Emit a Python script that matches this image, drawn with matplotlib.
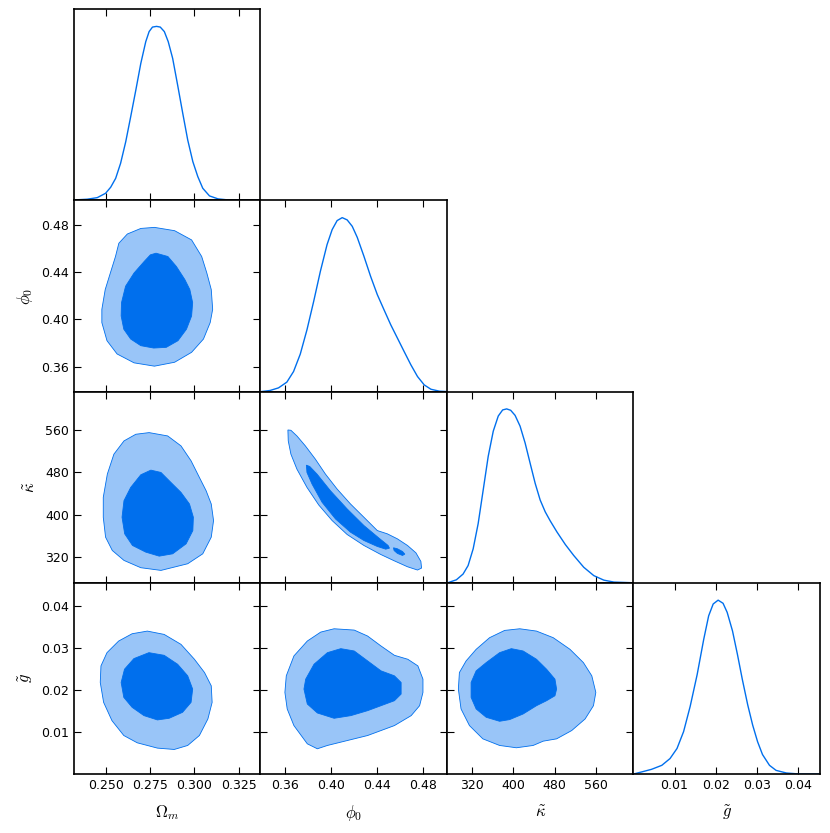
import numpy as np
import matplotlib
matplotlib.use("Agg")
import matplotlib.pyplot as plt

plt.rcParams['mathtext.fontset'] = 'cm'
plt.rcParams['font.family'] = 'DejaVu Sans'

DARK = '#006FED'
LIGHT = '#99C5F8'

# parameter names, ticks and ranges
names = [r'$\Omega_m$', r'$\phi_0$', r'$\tilde{\kappa}$', r'$\tilde{g}$']
ticks = [[0.250, 0.275, 0.300, 0.325],
         [0.36, 0.40, 0.44, 0.48],
         [320, 400, 480, 560],
         [0.01, 0.02, 0.03, 0.04]]
tick_labels = [['0.250', '0.275', '0.300', '0.325'],
               ['0.36', '0.40', '0.44', '0.48'],
               ['320', '400', '480', '560'],
               ['0.01', '0.02', '0.03', '0.04']]
lims = [(0.2318, 0.3372), (0.339, 0.5005), (271, 633), (0.0, 0.0454)]

# 1D marginals (normalised to peak 1)
om_x = [0.2322, 0.2394, 0.2451, 0.2498, 0.2527, 0.2555, 0.2583, 0.2612, 0.2640, 0.2669, 0.2697,
        0.2725, 0.2744, 0.2763, 0.2786, 0.2807, 0.2830, 0.2852, 0.2877, 0.2905, 0.2934, 0.2962,
        0.2991, 0.3019, 0.3047, 0.3085, 0.3133, 0.3189, 0.3373]
om_p = [0.002, 0.006, 0.015, 0.040, 0.075, 0.126, 0.213, 0.337, 0.481, 0.634, 0.787,
        0.912, 0.970, 0.996, 1.0, 0.996, 0.970, 0.912, 0.816, 0.663, 0.500, 0.347,
        0.222, 0.136, 0.069, 0.025, 0.008, 0.002, 0.0]
phi_x = [0.3403, 0.3475, 0.3548, 0.3620, 0.3678, 0.3736, 0.3794, 0.3852, 0.3910, 0.3968, 0.4012,
         0.4055, 0.4099, 0.4142, 0.4186, 0.4229, 0.4287, 0.4345, 0.4403, 0.4461, 0.4519, 0.4577,
         0.4635, 0.4693, 0.4751, 0.4809, 0.4867, 0.4940, 0.4998]
phi_p = [0.0, 0.006, 0.021, 0.054, 0.115, 0.215, 0.355, 0.518, 0.691, 0.845, 0.931,
         0.983, 1.0, 0.987, 0.950, 0.887, 0.778, 0.662, 0.557, 0.470, 0.384, 0.307,
         0.230, 0.154, 0.086, 0.038, 0.013, 0.002, 0.0]
kap_x = [274.5, 289.4, 302.4, 312.2, 322.0, 331.7, 341.5, 351.2, 361.0, 370.7, 379.2, 387.0,
         394.8, 403.3, 413.0, 422.8, 432.5, 442.3, 452.0, 461.8, 471.5, 484.6, 500.8, 517.1,
         536.6, 556.1, 575.6, 595.1, 632.8]
kap_p = [0.002, 0.017, 0.050, 0.099, 0.195, 0.340, 0.534, 0.727, 0.872, 0.959, 0.994, 1.0,
         0.992, 0.963, 0.901, 0.804, 0.688, 0.572, 0.476, 0.408, 0.356, 0.292, 0.220, 0.157,
         0.089, 0.041, 0.015, 0.004, 0.0]
g_x = [0.0000, 0.0020, 0.0044, 0.0069, 0.0089, 0.0106, 0.0122, 0.0138, 0.0155, 0.0171, 0.0183,
       0.0194, 0.0206, 0.0218, 0.0228, 0.0241, 0.0253, 0.0265, 0.0278, 0.0290, 0.0302, 0.0314,
       0.0331, 0.0347, 0.0372, 0.0404, 0.0453]
g_p = [0.0, 0.012, 0.027, 0.050, 0.089, 0.147, 0.244, 0.389, 0.572, 0.775, 0.910,
       0.978, 1.0, 0.982, 0.930, 0.823, 0.688, 0.543, 0.398, 0.282, 0.186, 0.112,
       0.050, 0.021, 0.006, 0.0, 0.0]

# 2D contours: (outer 95%, inner 68%)
om_phi_outer = ([0.2774, 0.2888, 0.2984, 0.3041, 0.3070, 0.3095, 0.3103, 0.3089, 0.3051, 0.2984, 0.2888,
                 0.2774, 0.2659, 0.2563, 0.2506, 0.2477, 0.2477, 0.2496, 0.2525, 0.2554, 0.2573, 0.2621, 0.2697],
                [0.4776, 0.4748, 0.4670, 0.4530, 0.4391, 0.4251, 0.4084, 0.3972, 0.3833, 0.3721, 0.3637,
                 0.3604, 0.3632, 0.3707, 0.3819, 0.3972, 0.4084, 0.4251, 0.4391, 0.4530, 0.4642, 0.4720, 0.4767])
om_phi_inner = ([0.2783, 0.2850, 0.2898, 0.2946, 0.2974, 0.2990, 0.2984, 0.2955, 0.2907, 0.2841,
                 0.2770, 0.2697, 0.2640, 0.2601, 0.2586, 0.2588, 0.2611, 0.2659, 0.2716, 0.2751],
                [0.4558, 0.4530, 0.4446, 0.4335, 0.4251, 0.4140, 0.4028, 0.3916, 0.3819, 0.3763,
                 0.3757, 0.3777, 0.3833, 0.3916, 0.4028, 0.4140, 0.4279, 0.4391, 0.4488, 0.4544])

om_kap_outer = ([0.2744, 0.2849, 0.2924, 0.2981, 0.3028, 0.3066, 0.3095, 0.3108, 0.3095, 0.3047, 0.2962,
                 0.2811, 0.2697, 0.2602, 0.2536, 0.2498, 0.2485, 0.2485, 0.2508, 0.2545, 0.2602, 0.2669],
                [555.2, 548.9, 530.1, 501.8, 470.4, 445.2, 420.1, 388.7, 357.3, 325.8, 307.0,
                 294.4, 299.5, 313.3, 332.1, 357.3, 395.0, 432.7, 476.7, 514.4, 539.5, 552.1])
om_kap_inner = ([0.2754, 0.2811, 0.2867, 0.2924, 0.2972, 0.2994, 0.2991, 0.2953, 0.2877, 0.2801,
                 0.2725, 0.2650, 0.2606, 0.2591, 0.2602, 0.2640, 0.2697],
                [484.2, 479.8, 461.0, 442.1, 420.1, 395.0, 369.8, 344.7, 325.8, 321.4,
                 329.0, 341.6, 363.6, 395.0, 426.4, 451.5, 475.4])

om_g_outer = ([0.2734, 0.2829, 0.2924, 0.3000, 0.3057, 0.3095, 0.3100, 0.3076, 0.3028, 0.2962, 0.2886,
               0.2791, 0.2677, 0.2601, 0.2534, 0.2487, 0.2468, 0.2472, 0.2506, 0.2572, 0.2648],
              [0.03393, 0.03314, 0.03078, 0.02724, 0.02409, 0.02094, 0.01701, 0.01307, 0.00914, 0.00678, 0.00583,
               0.00615, 0.00741, 0.00914, 0.01268, 0.01701, 0.02173, 0.02567, 0.02881, 0.03157, 0.03330])
om_g_inner = ([0.2743, 0.2829, 0.2905, 0.2962, 0.2990, 0.2981, 0.2933, 0.2857, 0.2791, 0.2715,
               0.2648, 0.2601, 0.2586, 0.2605, 0.2658],
              [0.02881, 0.02818, 0.02606, 0.02331, 0.02016, 0.01701, 0.01465, 0.01323, 0.01284, 0.01386,
               0.01583, 0.01819, 0.02173, 0.02488, 0.02740])

phi_kap_outer = ([0.3629, 0.3655, 0.3707, 0.3780, 0.3867, 0.3954, 0.4055, 0.4171, 0.4287, 0.4403, 0.4490,
                  0.4577, 0.4664, 0.4737, 0.4780, 0.4786, 0.4751, 0.4664, 0.4548, 0.4432, 0.4287, 0.4142,
                  0.4012, 0.3896, 0.3794, 0.3707, 0.3655, 0.3632],
                 [560.2, 559.6, 548.9, 530.1, 504.9, 476.7, 448.4, 420.1, 395.0, 369.8, 363.6,
                  354.1, 341.6, 327.7, 311.4, 298.8, 295.1, 301.3, 312.7, 324.6, 341.6, 362.3,
                  388.7, 418.2, 451.5, 486.1, 514.4, 539.5])
phi_kap_inner = ([0.3789, 0.3818, 0.3881, 0.3997, 0.4142, 0.4287, 0.4418, 0.4496, 0.4508, 0.4476,
                  0.4403, 0.4287, 0.4171, 0.4041, 0.3925, 0.3838, 0.3794],
                 [493.6, 491.1, 476.7, 445.2, 410.7, 379.3, 355.4, 341.6, 336.5, 334.6,
                  339.7, 351.0, 366.7, 391.8, 423.3, 457.8, 479.8])
phi_kap_island = ([0.4543, 0.4577, 0.4621, 0.4641, 0.4621, 0.4577, 0.4548],
                  [337.2, 335.3, 330.2, 325.2, 322.7, 326.5, 332.1])

phi_g_outer = ([0.4029, 0.4203, 0.4319, 0.4435, 0.4551, 0.4667, 0.4754, 0.4798, 0.4798, 0.4769, 0.4696,
                0.4551, 0.4319, 0.4145, 0.3971, 0.3884, 0.3797, 0.3681, 0.3623, 0.3603, 0.3615, 0.3681,
                0.3797, 0.3913],
               [0.03448, 0.03417, 0.03275, 0.03039, 0.02818, 0.02724, 0.02567, 0.02252, 0.01937, 0.01622, 0.01386,
                0.01150, 0.00914, 0.00796, 0.00678, 0.00599, 0.00717, 0.01150, 0.01544, 0.01937, 0.02331, 0.02803,
                0.03157, 0.03369])
phi_g_inner = ([0.4087, 0.4203, 0.4319, 0.4435, 0.4551, 0.4609, 0.4609, 0.4551, 0.4435, 0.4319,
                0.4174, 0.4029, 0.3884, 0.3797, 0.3768, 0.3783, 0.3855, 0.3971],
               [0.02976, 0.02921, 0.02685, 0.02449, 0.02331, 0.02173, 0.01898, 0.01740, 0.01622, 0.01504,
                0.01386, 0.01323, 0.01449, 0.01662, 0.02016, 0.02252, 0.02606, 0.02881])

kap_g_outer = ([412.4, 444.9, 477.4, 509.9, 535.9, 552.2, 560.0, 555.4, 539.2, 513.2, 483.9, 457.9,
                438.4, 405.9, 373.3, 340.8, 314.8, 298.5, 293.3, 295.3, 308.3, 327.8, 353.8, 383.1],
               [0.03448, 0.03393, 0.03236, 0.02960, 0.02645, 0.02331, 0.01937, 0.01622, 0.01307, 0.01032, 0.00835, 0.00780,
                0.00678, 0.00623, 0.00678, 0.00835, 0.01150, 0.01544, 0.02016, 0.02409, 0.02685, 0.02960, 0.03236, 0.03409])
kap_g_inner = ([396.1, 418.9, 444.9, 464.4, 480.7, 483.9, 480.7, 464.4, 444.9, 418.9,
                392.8, 373.3, 347.3, 327.8, 318.0, 318.0, 327.8, 347.3, 373.3],
               [0.02976, 0.02921, 0.02724, 0.02488, 0.02252, 0.02016, 0.01858, 0.01740, 0.01622, 0.01425,
                0.01292, 0.01252, 0.01347, 0.01544, 0.01819, 0.02173, 0.02449, 0.02645, 0.02881])

marginals = [(om_x, om_p), (phi_x, phi_p), (kap_x, kap_p), (g_x, g_p)]
contours = {
    (1, 0): [om_phi_outer, om_phi_inner],
    (2, 0): [om_kap_outer, om_kap_inner],
    (2, 1): [phi_kap_outer, phi_kap_inner, phi_kap_island],
    (3, 0): [om_g_outer, om_g_inner],
    (3, 1): [phi_g_outer, phi_g_inner],
    (3, 2): [kap_g_outer, kap_g_inner],
}

fig, axes = plt.subplots(4, 4, figsize=(8.3, 8.33), dpi=100)
fig.subplots_adjust(left=0.0888, right=0.988, bottom=0.0708, top=0.9892, wspace=0, hspace=0)

for i in range(4):
    for j in range(4):
        ax = axes[i, j]
        if j > i:
            ax.set_visible(False)
            continue
        ax.tick_params(direction='in', top=True, right=True, labelsize=9, length=5, width=0.8)
        for sp in ax.spines.values():
            sp.set_linewidth(1.2)
        ax.set_xlim(*lims[j])
        ax.set_xticks(ticks[j])
        if i == j:
            ax.plot(marginals[i][0], marginals[i][1], color=DARK, lw=1.0)
            ax.set_ylim(0, 1.1)
            ax.set_yticks([])
        else:
            polys = contours[(i, j)]
            ax.fill(polys[0][0], polys[0][1], facecolor=LIGHT, edgecolor=DARK, lw=0.6)
            for p in polys[1:]:
                ax.fill(p[0], p[1], facecolor=DARK, edgecolor=DARK, lw=0.6)
            ax.set_ylim(*lims[i])
            ax.set_yticks(ticks[i])
            if j == 0:
                ax.set_yticklabels(tick_labels[i])
                ax.set_ylabel(names[i], fontsize=12)
            else:
                ax.set_yticklabels([])
        if i == 3:
            ax.set_xticklabels(tick_labels[j])
            ax.set_xlabel(names[j], fontsize=12, labelpad=8)
        else:
            ax.set_xticklabels([])

fig.savefig('out.png', dpi=100)
